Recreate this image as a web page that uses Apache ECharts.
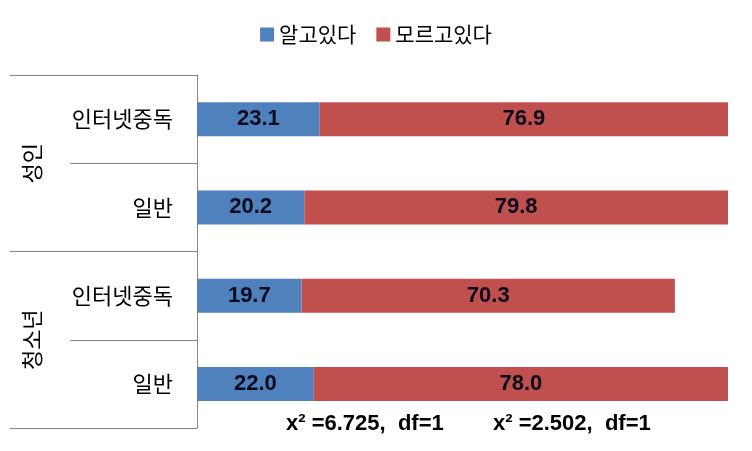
<!DOCTYPE html>
<html>
<head>
<meta charset="utf-8">
<script src="https://cdn.jsdelivr.net/npm/echarts@6/dist/echarts.min.js"></script>
<style>html,body{margin:0;padding:0;background:#fff;}#c{width:752px;height:451px;}</style>
</head>
<body>
<div id="c"></div>
<script>
const categories = ['인터넷중독', '일반', '인터넷중독', '일반'];
const groups = ['성인', '청소년'];
const knewValues = [23.1, 20.2, 19.7, 22.0];
const didNotKnowValues = [76.9, 79.8, 70.3, 78.0];
const seriesNames = ['알고있다', '모르고있다'];
const annotations = ['x² =6.725,  df=1', 'x² =2.502,  df=1'];

const chart = echarts.init(document.getElementById('c'));
const korFont = '"Noto Sans CJK KR", "Noto Sans", sans-serif';
const numFont = '"Liberation Sans", Arial, sans-serif';
const axisColor = '#868686';
const labelStyle = { show: true, position: 'inside', fontFamily: numFont, fontWeight: 'bold', fontSize: 22, color: '#0b0b1e', formatter: p => p.value.toFixed(1) };

chart.setOption({
  animation: false,
  legend: {
    top: 19, left: 'center', itemWidth: 14, itemHeight: 14, itemGap: 20,
    icon: 'rect',
    textStyle: { fontFamily: korFont, fontSize: 21, color: '#000' },
    data: seriesNames
  },
  grid: { left: 197, right: 24, top: 75, bottom: 23, containLabel: false },
  xAxis: { type: 'value', min: 0, max: 100, show: false },
  yAxis: [
    {
      type: 'category', inverse: true, data: categories,
      axisLine: { show: true, lineStyle: { color: axisColor, width: 1 } },
      axisTick: { show: true, length: 127, interval: 0, lineStyle: { color: axisColor } },
      axisLabel: { margin: 24, fontFamily: korFont, fontSize: 22, color: '#000' }
    },
    {
      type: 'category', inverse: true, data: groups, position: 'left',
      axisLine: { show: false },
      axisTick: { show: true, length: 187, interval: 0, lineStyle: { color: axisColor } },
      axisLabel: { rotate: 90, margin: 154, fontFamily: korFont, fontSize: 22, color: '#000' }
    }
  ],
  series: [
    { name: seriesNames[0], type: 'bar', stack: 'a', barWidth: 34, itemStyle: { color: '#4F81BD' }, label: labelStyle, data: knewValues },
    { name: seriesNames[1], type: 'bar', stack: 'a', barWidth: 34, itemStyle: { color: '#C0504D' }, label: labelStyle, data: didNotKnowValues }
  ],
  graphic: [
    { type: 'text', left: 286, top: 413, style: { text: annotations[0], fontFamily: numFont, fontWeight: 'bold', fontSize: 22, fill: '#000' } },
    { type: 'text', left: 493, top: 413, style: { text: annotations[1], fontFamily: numFont, fontWeight: 'bold', fontSize: 22, fill: '#000' } }
  ]
});
</script>
</body>
</html>
